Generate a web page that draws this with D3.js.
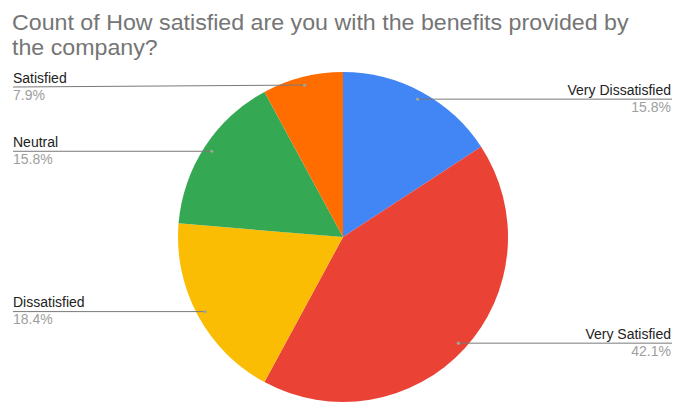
<!DOCTYPE html>
<html>
<head>
<meta charset="utf-8">
<script src="https://cdn.jsdelivr.net/npm/d3@7/dist/d3.min.js"></script>
<style>
  html, body { margin: 0; padding: 0; background: #fff; }
  svg { display: block; }
</style>
</head>
<body>
<svg id="chart" width="673" height="402"></svg>
<script>
// Survey answers (counts) in clockwise order starting at 12 o'clock
const categories = ["Very Dissatisfied", "Very Satisfied", "Dissatisfied", "Neutral", "Satisfied"];
const counts = [6, 16, 7, 6, 3];
const colors = ["#4285F4", "#EA4335", "#FBBC04", "#34A853", "#FF6D01"];
const titleLines = ["Count of How satisfied are you with the benefits provided by", "the company?"];

const width = 673, height = 402;
const cx = 343, cy = 237, radius = 165;
const svg = d3.select("#chart");
const font = "Arial, 'Liberation Sans', Helvetica, sans-serif";

// Title: two lines, slightly widened glyphs
const titleSize = 22;
const titleG = svg.append("g").attr("transform", "translate(12,0) scale(1.055,1)");
titleLines.forEach((t, i) => {
  titleG.append("text")
    .attr("x", 0).attr("y", 30.5 + i * 24.8)
    .attr("font-family", font)
    .attr("font-size", titleSize)
    .attr("fill", "#757575")
    .text(t);
});

const data = categories.map((c, i) => ({ name: c, value: counts[i], color: colors[i] }));
const total = d3.sum(counts);

const pie = d3.pie().value(d => d.value).sort(null);
const arcs = pie(data);
const arc = d3.arc().innerRadius(0).outerRadius(radius);
const dotArc = d3.arc().innerRadius(radius * 0.95).outerRadius(radius * 0.95);

const g = svg.append("g").attr("transform", `translate(${cx},${cy})`);
g.selectAll("path.slice")
  .data(arcs)
  .join("path")
  .attr("class", "slice")
  .attr("d", arc)
  .attr("fill", d => d.data.color);

const fmt = d3.format(".1%");

// Leader lines and labels
arcs.forEach(a => {
  const [dx, dy] = dotArc.centroid(a);
  const px = cx + dx, py = cy + dy;
  const right = px > cx;
  const ly = Math.max(py, 87);
  const lx = right ? 672 : 13;

  svg.append("line")
    .attr("x1", px).attr("y1", py)
    .attr("x2", lx).attr("y2", ly)
    .attr("stroke", "#7a7a7a")
    .attr("stroke-width", 1);
  svg.append("circle")
    .attr("cx", px).attr("cy", py).attr("r", 1.6)
    .attr("fill", "#9aa89a");

  const tx = right ? 671 : 13;
  const anchor = right ? "end" : "start";
  svg.append("text")
    .attr("x", tx).attr("y", ly - 4.5)
    .attr("text-anchor", anchor)
    .attr("font-family", font)
    .attr("font-size", 14)
    .attr("fill", "#222")
    .text(a.data.name);
  svg.append("text")
    .attr("x", tx).attr("y", ly + 12.5)
    .attr("text-anchor", anchor)
    .attr("font-family", font)
    .attr("font-size", 14)
    .attr("fill", "#9e9e9e")
    .text(fmt(a.data.value / total));
});
</script>
</body>
</html>
